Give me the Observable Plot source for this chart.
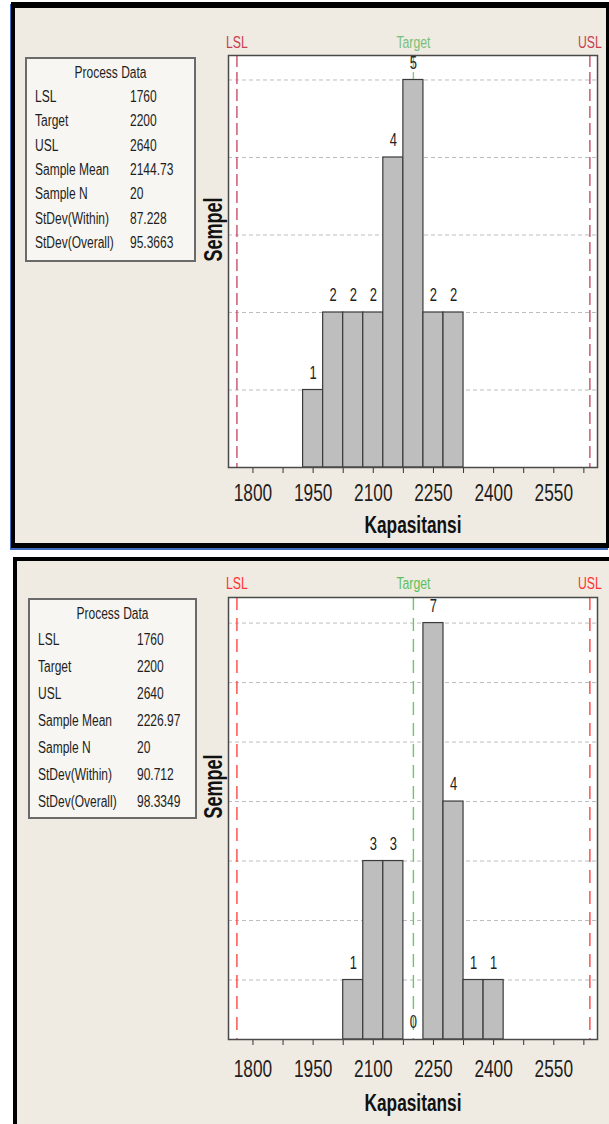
<!DOCTYPE html>
<html><head><meta charset="utf-8">
<script src="https://cdn.jsdelivr.net/npm/d3@7"></script>
<script src="https://cdn.jsdelivr.net/npm/@observablehq/plot@0.6"></script>
<style>
body{margin:0;background:#fff;width:609px;height:1124px;position:relative;overflow:hidden;
 font-family:"Liberation Sans",Arial,sans-serif;color:#1e1e1e;}
.panel{position:absolute;background:#EFEBE2;box-sizing:border-box;}
#p1{left:11px;top:2px;width:598px;height:546px;border-top:6px solid #000;border-left:4px solid #000;border-right:3px solid #000;border-bottom:5px solid #000;box-shadow:-1px 2px 0 #3B6CC0;}
#p2{left:13px;top:557px;width:600px;height:570px;border-top:4px solid #000;border-left:4px solid #000;}
.chart{position:absolute;}
.pdbox{position:absolute;box-sizing:border-box;border:2px solid #6a6a6a;background:#F7F6F2;font-size:16px;}
.pdbox div{position:absolute;height:18px;line-height:18px;white-space:nowrap;transform:scaleX(0.75);transform-origin:0 50%;}
.pdbox div.title{transform-origin:50% 50%;}
</style></head>
<body>
<div class="panel" id="p1"></div>
<div class="panel" id="p2"></div>
<div class="chart" id="c1"></div>
<div class="chart" id="c2"></div>
<div class="pdbox" id="b1"></div>
<div class="pdbox" id="b2"></div>
<script>
const FONT = '"Liberation Sans",Arial,sans-serif';
const SQUEEZE = 0.72;
// ---- data ----
const binWidth = 50;
const bins1Start = [1925, 1975, 2025, 2075, 2125, 2175, 2225, 2275];
const counts1    = [1, 2, 2, 2, 4, 5, 2, 2];
const bins2Start = [2025, 2075, 2125, 2175, 2225, 2275, 2325, 2375];
const counts2    = [1, 3, 3, 0, 7, 4, 1, 1];
const specNames  = ["LSL", "Target", "USL"];
const specValues = [1760, 2200, 2640];
const xTicks     = [1800, 1875, 1950, 2025, 2100, 2175, 2250, 2325, 2400, 2475, 2550, 2625];
const xLabels    = [1800, 1950, 2100, 2250, 2400, 2550];
const grid1      = [1, 2, 3, 4, 5];
const grid2      = [1, 2, 3, 4, 5, 6, 7];
const pdLabels   = ["LSL", "Target", "USL", "Sample Mean", "Sample N", "StDev(Within)", "StDev(Overall)"];
const pdValues1  = ["1760", "2200", "2640", "2144.73", "20", "87.228", "95.3663"];
const pdValues2  = ["1760", "2200", "2640", "2226.97", "20", "90.712", "98.3349"];

const xDomain = [1739, 2659];

function squeezeText(svg) {
  svg.querySelectorAll("text").forEach(t => {
    let tr = t.getAttribute("transform");
    if (!tr) {
      const x = t.getAttribute("x") || 0, y = t.getAttribute("y") || 0;
      t.removeAttribute("x"); t.removeAttribute("y");
      tr = `translate(${x},${y})`;
    }
    t.setAttribute("transform", tr + ` scale(${SQUEEZE},1)`);
  });
  return svg;
}

function makeHist(starts, counts, grid, o) {
  const data = starts.map((s, i) => ({x1: s, x2: s + binWidth, mid: s + binWidth / 2, count: counts[i]}));
  const specs = specNames.map((n, i) => ({name: n, value: specValues[i]}));
  return squeezeText(Plot.plot({
    width: o.width, height: o.height,
    marginLeft: o.ml, marginRight: o.mr, marginTop: o.mt, marginBottom: o.mb,
    x: {domain: xDomain, axis: null},
    y: {domain: [0, o.yMax], axis: null},
    style: {fontFamily: FONT, background: "transparent", overflow: "visible", color: "#1e1e1e", maxWidth: "none"},
    marks: [
      Plot.frame({fill: "white", stroke: null}),
      Plot.ruleY(grid, {stroke: "#BDBDBD", strokeDasharray: "4,3", strokeWidth: 1}),
      Plot.ruleX(specs.filter(d => d.name === "Target"), {x: "value", stroke: o.green, strokeDasharray: o.dash, strokeWidth: 1.4}),
      Plot.ruleX(specs.filter(d => d.name !== "Target"), {x: "value", stroke: o.red, strokeDasharray: o.dash, strokeWidth: 1.4}),
      Plot.rectY(data, {x1: "x1", x2: "x2", y: "count", fill: "#BEBEBE", stroke: "#3A3A3A", strokeWidth: 1.2}),
      Plot.text(data, {x: "mid", y: "count", text: d => String(d.count), dy: -17, lineAnchor: "middle", fontSize: 18, fill: "#222"}),
      Plot.axisX(xTicks, {tickSize: 6, tickPadding: o.tp, fontSize: 24, stroke: "#333",
        tickFormat: d => xLabels.includes(d) ? String(d) : "", label: null}),
      Plot.frame({stroke: "#4a4a4a", strokeWidth: 1.5}),
      Plot.text(specs, {x: "value", text: "name", frameAnchor: "top", lineAnchor: "middle", dy: o.specDy, fontSize: 17,
        fill: d => d.name === "Target" ? o.greenText : o.redText}),
      Plot.text(["Kapasitansi"], {frameAnchor: "bottom", lineAnchor: "middle", dy: o.labDy, fontSize: 24, fontWeight: "bold", fill: "#111"}),
      Plot.text(["Sempel"], {frameAnchor: "left", lineAnchor: "middle", dx: -15, rotate: -90, fontSize: 25, fontWeight: "bold", fill: "#111"})
    ]
  }));
}

const c1 = document.getElementById("c1");
c1.style.left = "15px"; c1.style.top = "8px"; c1.style.width = "590px";
c1.appendChild(makeHist(bins1Start, counts1, grid1, {
  width: 590, height: 534, ml: 213, mr: 8, mt: 47, mb: 75, yMax: 5.316,
  green: "#86C986", red: "#C8506A", greenText: "#78C078", redText: "#C8404F",
  dash: "12,5", tp: 10, specDy: -13, labDy: 58
}));

const c2 = document.getElementById("c2");
c2.style.left = "16px"; c2.style.top = "561px"; c2.style.width = "590px";
c2.appendChild(makeHist(bins2Start, counts2, grid2, {
  width: 590, height: 563, ml: 212, mr: 9, mt: 36, mb: 85, yMax: 7.43,
  green: "#66C866", red: "#FF4545", greenText: "#5CC05C", redText: "#FF3333",
  dash: "13,8", tp: 14, specDy: -14, labDy: 64
}));

function fillBox(id, box, values) {
  const el = document.getElementById(id);
  Object.assign(el.style, {left: box.x + "px", top: box.y + "px", width: box.w + "px", height: box.h + "px"});
  const t = document.createElement("div");
  t.className = "title";
  t.textContent = "Process Data";
  Object.assign(t.style, {left: "0px", width: (box.w - 4) + "px", textAlign: "center", top: (box.titleY - box.y - 11) + "px"});
  el.appendChild(t);
  pdLabels.forEach((lab, i) => {
    const cy = box.row0 + i * box.step - box.y - 11;
    const a = document.createElement("div");
    a.textContent = lab; a.style.left = box.lx + "px"; a.style.top = cy + "px";
    const b = document.createElement("div");
    b.textContent = values[i]; b.style.left = box.vx + "px"; b.style.top = cy + "px";
    el.appendChild(a); el.appendChild(b);
  });
}
fillBox("b1", {x: 25, y: 57, w: 171, h: 205, titleY: 73, row0: 97, step: 24.3, lx: 8, vx: 103}, pdValues1);
fillBox("b2", {x: 28, y: 598, w: 169, h: 221, titleY: 614, row0: 640, step: 27, lx: 8, vx: 107}, pdValues2);
</script>
</body></html>
